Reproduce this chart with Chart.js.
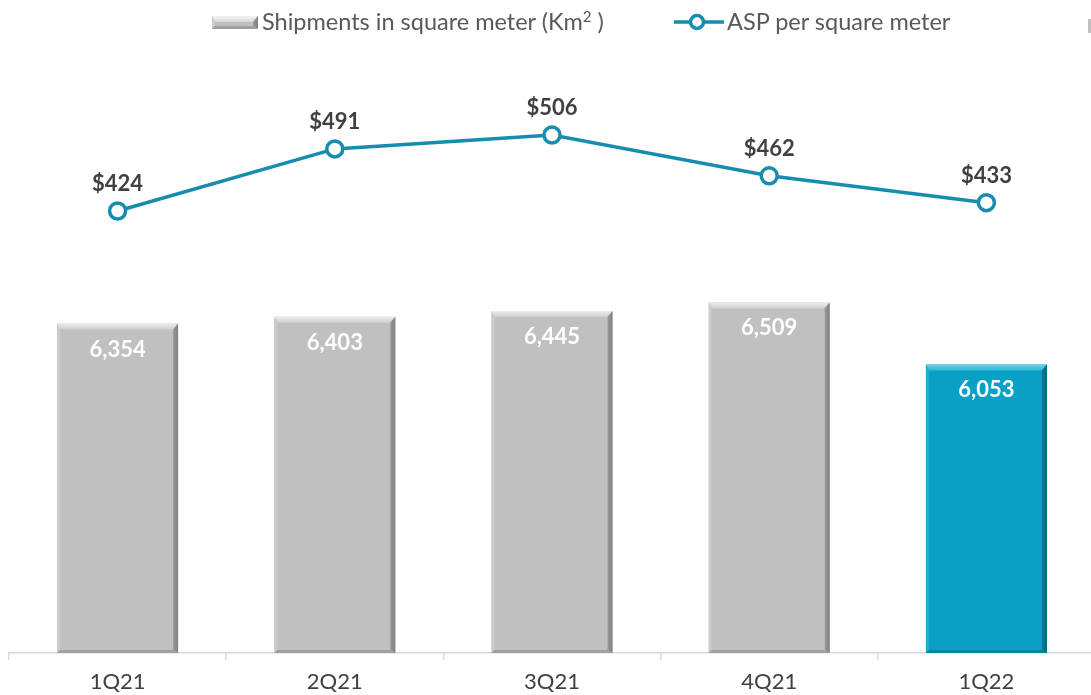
<!DOCTYPE html>
<html>
<head>
<meta charset="utf-8">
<script src="https://cdn.jsdelivr.net/npm/chart.js@4.4.1/dist/chart.umd.min.js"></script>
<style>
  html, body { margin: 0; padding: 0; background: #ffffff; overflow: hidden; }
  #wrap { position: relative; width: 1100px; height: 695px; }
  #c { position: absolute; left: 0; top: 0; }
  .leg { position: absolute; font-family: Lato, "Open Sans", sans-serif; font-size: 23.5px; color: #595959; line-height: 1; white-space: nowrap; }
  .leg sup { font-size: 15px; position: relative; top: -1px; vertical-align: top; }
  .mk { position: absolute; }
</style>
</head>
<body>
<div id="wrap">
  <canvas id="c" width="1100" height="695"></canvas>
  <canvas class="mk" id="mk0" width="46" height="13" style="left:212px;top:16px"></canvas>
  <div class="leg" id="leg0" style="left:262px;top:10px"></div>
  <canvas class="mk" id="mk1" width="50" height="20" style="left:674px;top:12px"></canvas>
  <div class="leg" id="leg1" style="left:727px;top:10px"></div>
  <div style="position:absolute;left:1088px;top:19px;width:3px;height:14px;background:#BFBFBF"></div>
</div>
<script>
// ---- data ----
const categories = ['1Q21', '2Q21', '3Q21', '4Q21', '1Q22'];
const shipments = [6354, 6403, 6445, 6509, 6053];
const asp = [424, 491, 506, 462, 433];
const seriesNames = ['Shipments in square meter (Km\u00B2 )', 'ASP per square meter'];

// ---- styles ----
const GRAY = '#C0C0C0';
const BLUE = '#08A1C5';
const LINE = '#168DAE';
const highlightIndex = categories.length - 1;
const barColors = categories.map((_, i) => i === highlightIndex ? BLUE : GRAY);
const FONT = 'Lato, "Open Sans", "DejaVu Sans", sans-serif';

const bevelSets = {
  [GRAY]: { top1: '#EDEDED', top2: '#CFCFCF', left: '#CBCBCB', right1: '#9A9A9A', right2: '#7F7F7F', bottom: '#A0A0A0' },
  [BLUE]: { top1: '#6FD3EC', top2: '#2DB6D6', left: '#22AECF', right1: '#067F9B', right2: '#05657C', bottom: '#06809B' }
};

function drawBevel(ctx, left, top, right, bottom, set) {
  const b = 6, l = 3, r = 5, bt = 3;
  let g = ctx.createLinearGradient(0, top, 0, top + b);
  g.addColorStop(0, set.top1); g.addColorStop(1, set.top2);
  ctx.fillStyle = g;
  ctx.beginPath();
  ctx.moveTo(left, top); ctx.lineTo(right, top); ctx.lineTo(right - r, top + b); ctx.lineTo(left + l, top + b);
  ctx.closePath(); ctx.fill();
  ctx.fillStyle = set.left;
  ctx.beginPath();
  ctx.moveTo(left, top); ctx.lineTo(left + l, top + b); ctx.lineTo(left + l, bottom - bt); ctx.lineTo(left, bottom);
  ctx.closePath(); ctx.fill();
  g = ctx.createLinearGradient(right - r, 0, right, 0);
  g.addColorStop(0, set.right1); g.addColorStop(1, set.right2);
  ctx.fillStyle = g;
  ctx.beginPath();
  ctx.moveTo(right, top); ctx.lineTo(right, bottom); ctx.lineTo(right - r, bottom - bt); ctx.lineTo(right - r, top + b);
  ctx.closePath(); ctx.fill();
  ctx.fillStyle = set.bottom;
  ctx.beginPath();
  ctx.moveTo(left, bottom); ctx.lineTo(left + l, bottom - bt); ctx.lineTo(right - r, bottom - bt); ctx.lineTo(right, bottom);
  ctx.closePath(); ctx.fill();
}

const bevelPlugin = {
  id: 'bevel',
  afterDatasetDraw(chart, args) {
    if (args.index !== 0) return;
    const ctx = chart.ctx;
    const meta = chart.getDatasetMeta(0);
    const area = chart.chartArea;
    ctx.save();
    meta.data.forEach((el, i) => {
      const p = el.getProps(['x', 'y', 'base', 'width'], true);
      const bottom = Math.min(p.base, area.bottom);
      drawBevel(ctx, p.x - p.width / 2, p.y, p.x + p.width / 2, bottom, bevelSets[barColors[i]]);
    });
    ctx.restore();
  }
};

const labelPlugin = {
  id: 'valueLabels',
  afterDatasetsDraw(chart) {
    const ctx = chart.ctx;
    ctx.save();
    ctx.textAlign = 'center';
    ctx.textBaseline = 'middle';
    const barMeta = chart.getDatasetMeta(0);
    ctx.font = 'bold 22px ' + FONT;
    ctx.fillStyle = '#FFFFFF';
    barMeta.data.forEach((el, i) => {
      const p = el.getProps(['x', 'y'], true);
      ctx.fillText(shipments[i].toLocaleString('en-US'), p.x, p.y + 26);
    });
    const lineMeta = chart.getDatasetMeta(1);
    ctx.fillStyle = '#404040';
    lineMeta.data.forEach((el, i) => {
      const p = el.getProps(['x', 'y'], true);
      ctx.fillText('$' + asp[i], p.x, p.y - 27);
    });
    ctx.restore();
  }
};

// legend (HTML text + small drawn markers)
(function buildLegend() {
  const t0 = seriesNames[0].replace('\u00B2', '');
  const i = t0.indexOf('(Km');
  document.getElementById('leg0').innerHTML = t0.slice(0, i + 3) + '<sup>2</sup>' + t0.slice(i + 3);
  document.getElementById('leg1').textContent = seriesNames[1];
  const a = document.getElementById('mk0').getContext('2d');
  a.fillStyle = GRAY; a.fillRect(0, 0, 46, 13);
  drawBevel(a, 0, 0, 46, 13, { top1: '#F4F4F4', top2: '#D8D8D8', left: '#CBCBCB', right1: '#9A9A9A', right2: '#7F7F7F', bottom: '#A0A0A0' });
  const b = document.getElementById('mk1').getContext('2d');
  b.strokeStyle = LINE; b.lineWidth = 3.5;
  b.beginPath(); b.moveTo(0, 10); b.lineTo(50, 10); b.stroke();
  b.fillStyle = '#fff';
  b.beginPath(); b.arc(23, 10, 6.5, 0, Math.PI * 2); b.fill(); b.stroke();
})();

new Chart(document.getElementById('c'), {
  data: {
    labels: categories,
    datasets: [
      {
        type: 'bar',
        label: seriesNames[0],
        data: shipments,
        backgroundColor: barColors,
        borderWidth: 0,
        categoryPercentage: 0.557,
        barPercentage: 1,
        yAxisID: 'y',
        order: 2
      },
      {
        type: 'line',
        label: seriesNames[1],
        data: asp,
        borderColor: LINE,
        borderWidth: 3.5,
        pointRadius: 8,
        pointBorderWidth: 3.5,
        pointBackgroundColor: '#FFFFFF',
        pointBorderColor: LINE,
        tension: 0,
        yAxisID: 'y2',
        order: 1
      }
    ]
  },
  options: {
    responsive: false,
    animation: false,
    events: [],
    layout: { autoPadding: false, padding: { left: 9, right: 5, top: 40, bottom: 0 } },
    plugins: {
      tooltip: { enabled: false },
      legend: { display: false }
    },
    scales: {
      x: {
        grid: { display: true, drawOnChartArea: false, tickLength: 7, color: '#D9D9D9', lineWidth: 1.5 },
        border: { display: true, color: '#D9D9D9', width: 1.5 },
        ticks: { font: { family: FONT, size: 22 }, color: '#404040', padding: 9 },
        afterFit(scale) { scale.height = 42; }
      },
      y: { display: false, min: 3930, max: 8439 },
      y2: { display: false, position: 'right', min: -52.9, max: 608.5 }
    }
  },
  plugins: [bevelPlugin, labelPlugin]
});
</script>
</body>
</html>
